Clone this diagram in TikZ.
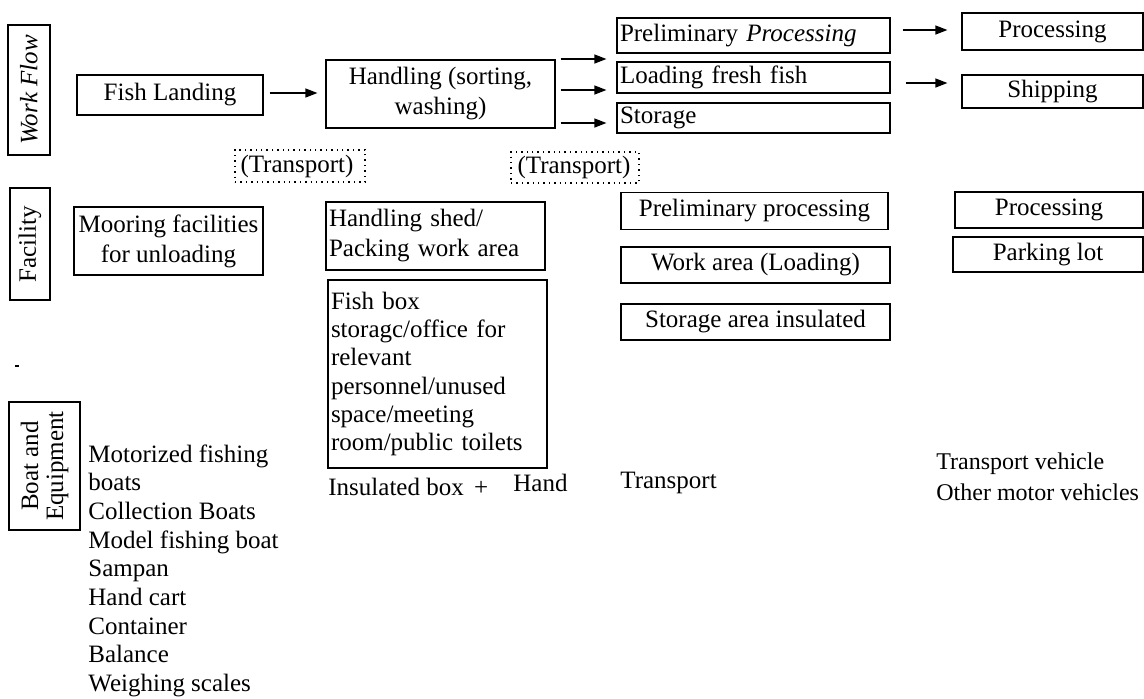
\documentclass[tikz,border=0pt]{standalone}
\usepackage{fontspec}
\setmainfont{Liberation Serif}
\usetikzlibrary{arrows.meta,calc}
\begin{document}
\begin{tikzpicture}[x=0.5pt,y=-0.5pt,
  every node/.style={font=\fontsize{12.5}{15}\selectfont, inner sep=1.5pt},
  box/.style={draw, line width=0.6pt, align=center},
  lbox/.style={draw, line width=0.6pt, align=left, inner xsep=1.5pt},
  tbox/.style={draw, dotted, line width=0.7pt, align=center},
  lab/.style={draw, line width=0.6pt, rotate=90, align=center},
  plain/.style={align=left, inner sep=0pt},
  arr/.style={-{Triangle[length=6pt,width=4.5pt]}, line width=0.6pt}]
\useasboundingbox (0,0) rectangle (1144,698);
% side labels
\node[lab, minimum width=65pt, minimum height=21pt, font=\fontsize{12.5}{15}\selectfont\itshape] (wf) at (29,90) {Work Flow};
\node[lab, minimum width=56pt, minimum height=20pt] (fac) at (30,244) {Facility};
\node[lab, minimum width=64pt, minimum height=35.5pt, font=\fontsize{12.5}{12.5}\selectfont] (be) at (44.5,466) {Boat and\\Equipment};
% work flow
\node[box, minimum width=93pt, minimum height=20pt] (fl) at (170,95) {Fish Landing};
\node[box, minimum width=114.5pt, minimum height=34pt] (hd) at (440.5,94) {Handling (sorting,\\washing)};
\node[lbox, text width=133.5pt, minimum height=17.5pt] (pp) at (753.5,35.5) {Preliminary \textit{Processing}};
\node[lbox, text width=133.5pt, minimum height=15.5pt] (lf) at (753.5,77.5) {Loading fresh fish};
\node[lbox, text width=133.5pt, minimum height=15pt] (st) at (753.5,118) {Storage};
\node[box, minimum width=90.5pt, minimum height=18.5pt] (pr) at (1052.5,31.5) {Processing};
\node[box, minimum width=90.5pt, minimum height=16.5pt] (sh) at (1052.5,91.5) {Shipping};
% arrows
\draw[arr] ($(fl.east|-0,93)+(6,0)$) -- ($(hd.west|-0,93)+(-8,0)$);
\draw[arr] ($(hd.east|-0,59)+(5,0)$) -- ($(pp.west|-0,59)+(-10,0)$);
\draw[arr] ($(hd.east|-0,90)+(5,0)$) -- ($(lf.west|-0,90)+(-10,0)$);
\draw[arr] ($(hd.east|-0,123)+(5,0)$) -- ($(st.west|-0,123)+(-10,0)$);
\draw[arr] ($(pp.east|-0,30)+(12,0)$) -- ($(pr.west|-0,30)+(-14,0)$);
\draw[arr] ($(lf.east|-0,83)+(15,0)$) -- ($(sh.west|-0,83)+(-14,0)$);
% transport
\node[tbox, minimum width=65pt, minimum height=16pt] (t1) at (300,166) {(Transport)\hspace{3pt}};
\node[tbox, minimum width=64pt, minimum height=15.5pt] (t2) at (575,167.5) {(Transport)\hspace{1pt}};
% facility
\node[box, minimum width=94.5pt, minimum height=34pt] (mo) at (168.5,241) {Mooring facilities\\for unloading};
\node[lbox, text width=106.5pt, minimum height=34pt] (hs) at (435.5,236) {Handling shed/\\Packing work area};
\node[lbox, text width=106.5pt, minimum height=94pt, font=\fontsize{12.5}{14.15}\selectfont] (fb) at (437.5,374) {Fish box\\storagc/office for\\relevant\\personnel/unused\\space/meeting\\room/public toilets\\[6pt]};
\node[box, minimum width=133.5pt, minimum height=18.5pt] (pf) at (754.5,211) {Preliminary processing};
\node[box, minimum width=134.5pt, minimum height=18pt] (wa) at (755.5,265) {Work area (Loading)};
\node[box, minimum width=134.5pt, minimum height=18pt] (sa) at (755.5,322) {Storage area insulated};
\node[box, minimum width=94pt, minimum height=18pt] (fp) at (1049,210) {Processing};
\node[box, minimum width=95pt, minimum height=17.5pt] (pl) at (1048,254.5) {Parking lot};
% boat and equipment
\node[plain, anchor=west] (ib) at (328,487) {Insulated box\hspace{2pt} +};
\node[plain, anchor=west] (hn) at (513,483) {Hand};
\node[plain, anchor=west] (tr) at (620,483) {Transport};
\node[plain, anchor=north west, font=\fontsize{12}{15.5}\selectfont] (tv) at (936,452) {Transport vehicle\\Other motor vehicles};
\node[plain, anchor=north west, font=\fontsize{12.5}{14.35}\selectfont] (ls) at (88,444) {Motorized fishing\\boats\\Collection Boats\\Model fishing boat\\Sampan\\Hand cart\\Container\\Balance\\Weighing scales};
\draw[line width=0.6pt] (15,366) -- (19,366);
\end{tikzpicture}
\end{document}
